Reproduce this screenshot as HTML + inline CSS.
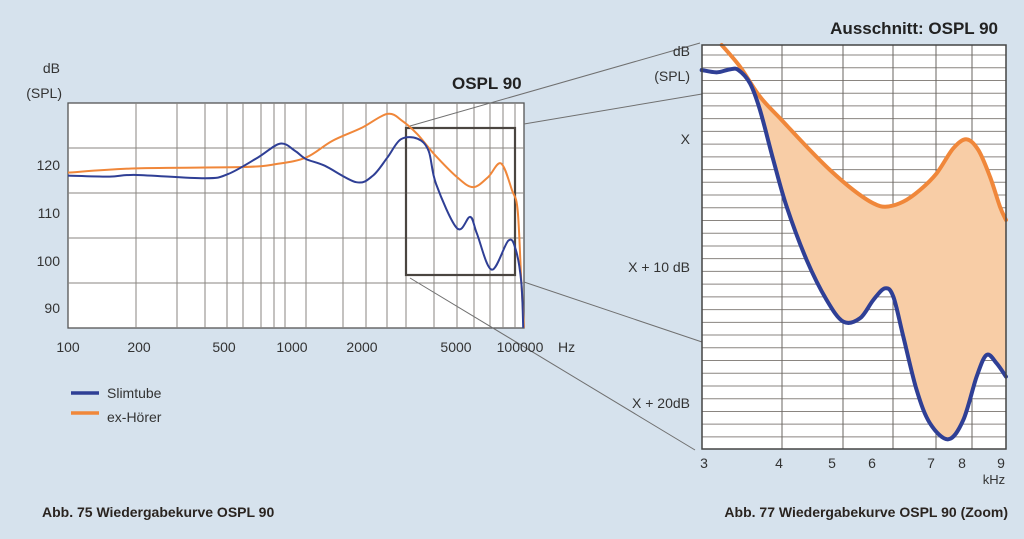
<!DOCTYPE html>
<html><head><meta charset="utf-8"><style>
html,body{margin:0;padding:0;background:#d6e2ed;}
svg{display:block;font-family:"Liberation Sans",sans-serif;}
</style></head><body>
<svg id="s" width="1024" height="539" viewBox="0 0 1024 539" xmlns="http://www.w3.org/2000/svg">
<rect width="1024" height="539" fill="#d6e2ed"/>
<!-- left chart -->
<rect x="68" y="103" width="456" height="225" fill="#fff" stroke="#555" stroke-width="1.3"/>
<g id="lv" stroke="#8a8580" stroke-width="1"></g>
<g stroke="#8a8580" stroke-width="1">
<line x1="68" y1="148" x2="524" y2="148"/><line x1="68" y1="193" x2="524" y2="193"/>
<line x1="68" y1="238" x2="524" y2="238"/><line x1="68" y1="283" x2="524" y2="283"/>
</g>
<rect x="406" y="128" width="109" height="147" fill="none" stroke="#4a4540" stroke-width="2.2"/>
<g transform="translate(68 103) scale(0.371 0.330) translate(-188 -155)" fill="none">
<path id="lo" stroke="#f0873a" stroke-width="2" vector-effect="non-scaling-stroke"/>
<path id="lb" stroke="#2f3f95" stroke-width="2" vector-effect="non-scaling-stroke"/>
</g>
<!-- connector lines -->
<g stroke="#707070" stroke-width="1" fill="none">
<line x1="410" y1="126" x2="700" y2="43"/>
<line x1="524" y1="124" x2="702" y2="94"/>
<line x1="524" y1="282" x2="702" y2="342"/>
<line x1="410" y1="278" x2="695" y2="450"/>
</g>
<g fill="#333" font-size="14">
<text x="60" y="73" text-anchor="end">dB</text>
<text x="62" y="98" text-anchor="end">(SPL)</text>
<text x="60" y="170" text-anchor="end">120</text>
<text x="60" y="218" text-anchor="end">110</text>
<text x="60" y="266" text-anchor="end">100</text>
<text x="60" y="313" text-anchor="end">90</text>
<g text-anchor="middle">
<text x="68" y="352">100</text><text x="139" y="352">200</text><text x="224" y="352">500</text>
<text x="292" y="352">1000</text><text x="362" y="352">2000</text><text x="456" y="352">5000</text>
<text x="520" y="352">100000</text></g>
<text x="558" y="352">Hz</text>
<text x="452" y="89" font-size="17" font-weight="bold" fill="#222">OSPL 90</text>
</g>
<!-- legend -->
<line x1="71" y1="393" x2="99" y2="393" stroke="#2f3f95" stroke-width="3.5"/>
<line x1="71" y1="413" x2="99" y2="413" stroke="#f0873a" stroke-width="3.5"/>
<text x="107" y="398" font-size="14" fill="#333">Slimtube</text>
<text x="107" y="422" font-size="14" fill="#333">ex-Hörer</text>
<text x="42" y="517" font-size="14" font-weight="bold" fill="#2a2420">Abb. 75 Wiedergabekurve OSPL 90</text>
<!-- right chart -->
<rect x="702" y="45" width="304" height="404" fill="#fff"/>
<g id="rh" stroke="#8a8580" stroke-width="1"></g>
<g stroke="#6a6560" stroke-width="1">
<line x1="782" y1="45" x2="782" y2="449"/><line x1="843" y1="45" x2="843" y2="449"/>
<line x1="893" y1="45" x2="893" y2="449"/><line x1="936" y1="45" x2="936" y2="449"/>
<line x1="972" y1="45" x2="972" y2="449"/>
</g>
<g transform="translate(620 20) scale(0.3333)">
<path id="rf" fill="#f8cda6" stroke="none"/>
<path id="ro" fill="none" stroke="#f0873a" stroke-width="12" stroke-linecap="round"/>
<path id="rb" fill="none" stroke="#2f3f95" stroke-width="12" stroke-linecap="round"/>
</g>
<rect x="702" y="45" width="304" height="404" fill="none" stroke="#444" stroke-width="1.5"/>
<g fill="#333" font-size="14">
<text x="690" y="56" text-anchor="end">dB</text>
<text x="690" y="81" text-anchor="end">(SPL)</text>
<text x="690" y="144" text-anchor="end">X</text>
<text x="690" y="272" text-anchor="end">X + 10 dB</text>
<text x="690" y="408" text-anchor="end">X + 20dB</text>
<g text-anchor="middle">
<text x="704" y="468">3</text><text x="779" y="468">4</text><text x="832" y="468">5</text>
<text x="872" y="468">6</text><text x="931" y="468">7</text><text x="962" y="468">8</text>
<text x="1001" y="468">9</text></g>
<text x="994" y="484" text-anchor="middle" font-size="13">kHz</text>
<text x="998" y="34" text-anchor="end" font-size="17" font-weight="bold" fill="#222">Ausschnitt: OSPL 90</text>
</g>
<text x="1008" y="517" text-anchor="end" font-size="14" font-weight="bold" fill="#2a2420">Abb. 77 Wiedergabekurve OSPL 90 (Zoom)</text>
</svg>
<script>
var NS="http://www.w3.org/2000/svg";
function ln(g,x1,y1,x2,y2){var l=document.createElementNS(NS,"line");l.setAttribute("x1",x1);l.setAttribute("y1",y1);l.setAttribute("x2",x2);l.setAttribute("y2",y2);g.appendChild(l);}
var lv=document.getElementById("lv");
[136,177,205,227,243,261,274,285,306,343,366,387,406,434,457,474,490,503,515].forEach(function(x){ln(lv,x,103,x,328);});
var rh=document.getElementById("rh");
for(var k=0;k<31;k++){var y=55+k*12.73;ln(rh,702,y,1006,y);}
function cr(p,move){var d=move?"M"+p[0][0]+","+p[0][1]:"L"+p[0][0]+","+p[0][1];
for(var i=0;i<p.length-1;i++){var p0=p[i-1]||p[i],p1=p[i],p2=p[i+1],p3=p[i+2]||p2;
d+=" C"+(p1[0]+(p2[0]-p0[0])/6)+","+(p1[1]+(p2[1]-p0[1])/6)+" "+(p2[0]-(p3[0]-p1[0])/6)+","+(p2[1]-(p3[1]-p1[1])/6)+" "+p2[0]+","+p2[1];}return d;}
var LO=[[188,366],[372,353],[660,349],[750,340],[830,320],[900,270],[980,230],[1049,188],[1090,210],[1130,250],[1175,310],[1237,380],[1280,410],[1320,380],[1355,338],[1385,420],[1400,480],[1410,700],[1417,836]];
var LB=[[188,375],[300,378],[372,373],[558,383],[620,370],[700,320],[760,278],[800,300],[830,325],[880,345],[965,395],[1010,375],[1049,320],[1085,265],[1130,263],[1160,300],[1180,400],[1237,535],[1272,500],[1290,550],[1330,660],[1375,572],[1395,600],[1410,700],[1415,836]];
document.getElementById("lo").setAttribute("d",cr(LO,1));
document.getElementById("lb").setAttribute("d",cr(LB,1));
var RO=[[305,75],[360,140],[420,230],[485,300],[560,380],[630,450],[700,510],[760,550],[800,560],[850,545],[900,510],[950,460],[1000,385],[1040,358],[1075,390],[1110,470],[1140,560],[1158,600]];
var RB=[[245,150],[290,157],[330,148],[355,150],[390,190],[420,270],[460,420],[500,560],[560,720],[620,840],[670,905],[720,895],[760,840],[795,805],[820,830],[850,950],[890,1110],[930,1210],[985,1258],[1030,1200],[1070,1070],[1100,1005],[1130,1030],[1158,1070]];
document.getElementById("ro").setAttribute("d",cr(RO,1));
document.getElementById("rb").setAttribute("d",cr(RB,1));
var ROf=RO.slice(2),RBf=RB.slice(5).reverse();
document.getElementById("rf").setAttribute("d","M390,190 "+cr(ROf,0)+" "+cr(RBf,0)+"Z");
</script>
</body></html>
